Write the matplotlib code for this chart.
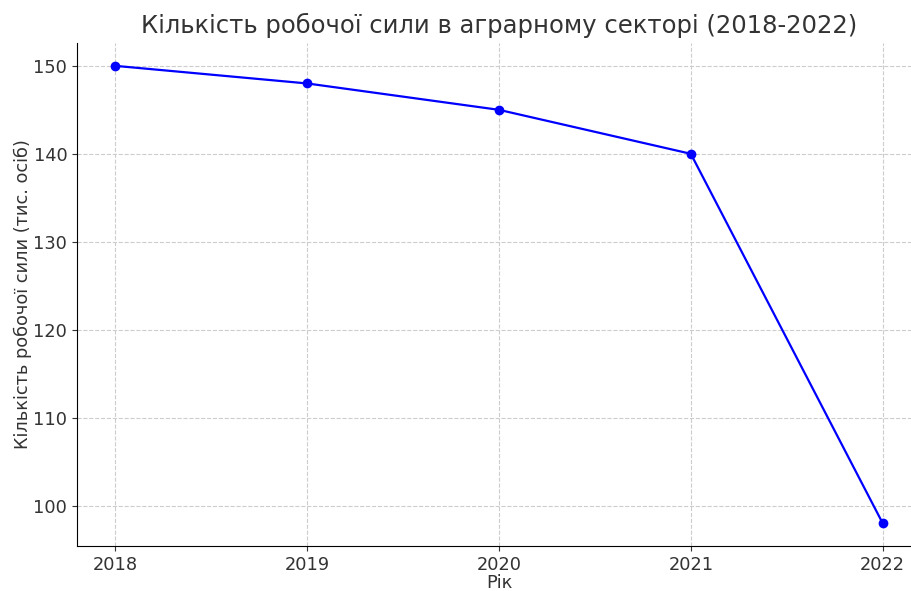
import matplotlib
matplotlib.use("Agg")
import matplotlib.pyplot as plt

years = [2018, 2019, 2020, 2021, 2022]
workforce = [150, 148, 145, 140, 98]

title = "Кількість робочої сили в аграрному секторі (2018-2022)"
xlabel = "Рік"
ylabel = "Кількість робочої сили (тис. осіб)"

text_color = "#333333"

fig = plt.figure(figsize=(9.12, 5.91), dpi=100)
ax = fig.add_axes([77 / 912, 45 / 591, 844 / 912, 503 / 591])

ax.plot(years, workforce, color="blue", marker="o", markersize=6, linewidth=1.6)

ax.set_title(title, fontsize=17.5, color=text_color, pad=7)
ax.set_xlabel(xlabel, fontsize=12.8, color=text_color, labelpad=0)
ax.set_ylabel(ylabel, fontsize=12.8, color=text_color, labelpad=1)
ax.set_xticks(years)
ax.tick_params(labelsize=12.8, colors=text_color)

ax.grid(True, linestyle="--", color="#cccccc", linewidth=0.8)
ax.spines["top"].set_visible(False)
ax.spines["right"].set_visible(False)

fig.savefig("out.png", dpi=100)
